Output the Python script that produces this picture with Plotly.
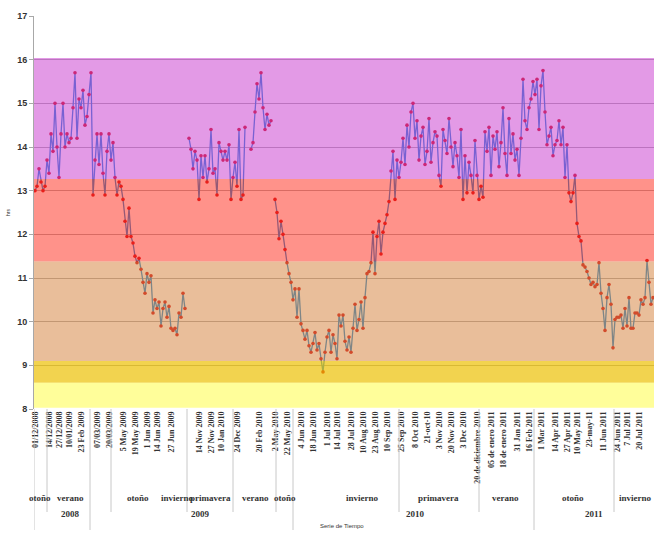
import plotly.graph_objects as go

# ---------------- data ----------------
# otoño/verano 2008-2009 and otoño/invierno 2009
serie_2008_2009 = [
    13.0, 13.1, 13.5, 13.2, 13.0, 13.1, 13.7, 13.4, 14.3, 13.9,
    15.0, 14.0, 13.3, 14.3, 15.0, 14.0, 14.3, 14.1, 14.2, 14.9,
    15.7, 14.2, 15.1, 14.9, 15.3, 14.5, 14.7, 15.2, 15.7, 12.9,
    13.7, 14.3, 13.6, 14.3, 13.4, 12.9, 13.9, 14.3, 13.7, 14.1,
    13.3, 12.9, 13.2, 13.1, 12.8, 12.3, 11.95, 12.6, 11.95, 11.8,
    11.5, 11.35, 11.45, 11.2, 10.9, 10.65, 11.1, 10.9, 11.05, 10.2,
    10.5, 10.3, 10.45, 9.9, 10.3, 10.45, 10.1, 10.35, 9.85, 9.8,
    9.85, 9.7, 10.2, 10.1, 10.65, 10.3,
]
# primavera 2009 / verano (Dec 2009)
serie_primavera_2009 = [
    14.2, 13.95, 13.5, 13.9, 13.7, 12.8, 13.8, 13.3, 13.8, 13.2,
    13.5, 14.4, 13.4, 13.5, 12.9, 14.1, 13.9, 13.7, 13.9, 13.7,
    14.05, 12.8, 13.3, 13.65, 13.1, 14.4, 12.8, 12.9, 14.45,
]
# verano 2010
serie_verano_2010 = [13.95, 14.1, 14.8, 15.45, 15.1, 15.7, 14.9, 14.4, 14.75, 14.5, 14.6]
# otoño / invierno 2010
serie_invierno_2010 = [
    12.8, 12.5, 11.9, 12.3, 12.0, 11.65, 11.35, 11.1, 10.9, 10.5,
    10.75, 10.1, 10.75, 9.95, 9.8, 9.6, 9.8, 9.45, 9.3, 9.5,
    9.75, 9.35, 9.5, 9.15, 8.85, 9.3, 9.65, 9.8, 9.3, 9.7,
    9.5, 9.15, 10.15, 9.9, 10.15, 9.55, 9.35, 9.65, 9.3, 9.85,
    10.4, 9.8, 10.05, 10.45, 9.85, 10.55, 11.1, 11.15, 11.35, 12.05,
    11.1, 11.95, 12.3, 11.55, 12.05, 12.25, 12.45, 12.75, 13.45, 13.9,
    12.8, 13.7, 13.3, 13.65,
]
# primavera 2010 / verano 2011
serie_primavera_2010 = [
    14.2, 13.6, 14.5, 14.0, 14.8, 15.0, 14.2, 14.6, 13.7, 14.25,
    14.45, 13.6, 13.9, 14.65, 13.65, 14.1, 14.35, 14.25, 13.35, 13.1,
    14.4, 14.15, 13.85, 14.65, 14.0, 13.55, 14.1, 13.8, 13.3, 14.4,
    12.8, 13.8, 12.95, 13.65, 13.35, 12.95, 14.15, 13.35, 12.8, 13.1,
    12.85, 14.35, 13.9, 14.45, 13.35, 14.25, 13.95, 14.35, 13.55, 14.1,
    14.9, 13.85, 13.35, 14.65, 13.85, 14.3, 13.7, 13.95, 13.35, 14.2,
    15.55, 14.6, 14.4, 14.9, 15.1, 15.5, 15.2, 15.55, 14.4, 15.4,
    15.75, 14.8, 14.05, 14.25, 14.45, 13.8, 14.05, 14.15, 14.6, 14.05,
]
# otoño / invierno 2011
serie_invierno_2011 = [
    14.45, 13.3, 14.05, 12.95, 12.75, 12.95, 13.35, 12.25, 11.95, 11.85,
    11.3, 11.25, 11.15, 11.0, 10.85, 10.9, 10.8, 10.85, 11.35, 10.65,
    10.3, 9.8, 10.55, 10.85, 10.4, 9.4, 10.05, 10.1, 10.1, 10.15,
    9.85, 10.3, 9.9, 10.55, 9.85, 9.85, 10.2, 10.2, 10.15, 10.5,
    10.4, 10.55, 11.4, 10.9, 10.4, 10.55,
]

valores = (serie_2008_2009 + [None] + serie_primavera_2009 + [None, None]
           + serie_verano_2010 + [None] + serie_invierno_2010
           + serie_primavera_2010 + serie_invierno_2011)
indices = list(range(len(valores)))

fechas_pos = [0, 7, 12, 17, 23, 31, 37, 44, 50, 56, 61, 68,
              82, 88, 93, 101, 112, 120, 126, 133, 139, 146, 151, 158, 164, 170, 176,
              183, 190, 196, 202, 208, 214, 221, 228, 234, 241, 247, 253, 260, 266,
              271, 277, 284, 291, 296, 302]
fechas_txt = ["01/12/2008", "14/12/2008", "27/12/2008", "10/01/2009", "23 Feb 2009",
              "07/03/2009", "20/03/2009", "5 May 2009", "19 May 2009", "1 Jun 2009",
              "14 Jun 2009", "27 Jun 2009", "14 Nov 2009", "27 Nov 2009", "10 Jan 2010",
              "24 Dec 2009", "20 Feb 2010", "2 May 2010", "22 May 2010", "4 Jun 2010",
              "18 Jun 2010", "1 Jul 2010", "14 Jul 2010", "28 Jul 2010", "10 Aug 2010",
              "23 Aug 2010", "10 Sep 2010", "25 Sep 2010", "8 Oct 2010", "21-oct-10",
              "3 Nov 2010", "20 Nov 2010", "3 Dec 2010", "20 de diciembre 2010",
              "05 de enero 2011", "18 de enero 2011", "31 Jan 2011", "16 Feb 2011",
              "1 Mar 2011", "14 Apr 2011", "27 Apr 2011", "10 May 2011", "23-may-11",
              "11 Jun 2011", "24 Jun 2011", "7 Jul 2011", "20 Jul 2011"]

estaciones_txt = ["otoño", "verano", "otoño", "invierno", "primavera", "verano", "otoño",
                  "invierno", "primavera", "verano", "otoño", "invierno"]
estaciones_pos = [2.5, 17.5, 51.5, 71, 87.5, 110, 125, 163.5, 201.5, 235, 269, 300]
anios_txt = ["2008", "2009", "2010", "2011"]
anios_pos = [17.5, 82.5, 190, 279.5]
sep_estacion = [6, 38, 76, 99, 120.5, 182, 222, 289.5]
sep_anio = [-0.5, 27.5, 129, 249.5]

# bands: (low, high, colour, opacity)
bandas = [
    (13.27, 16.04, "rgb(204,71,210)", 0.55),
    (11.38, 13.27, "rgb(255,57,42)", 0.55),
    (9.1, 11.38, "rgb(215,137,71)", 0.55),
    (8.6, 9.1, "rgb(236,192,4)", 0.70),
    (8.03, 8.6, "rgb(255,254,71)", 0.55),
]

# ---------------- figure ----------------
W, H = 655, 537
L, R, T, B = 34, 1, 16, 128
PH = H - T - B

def py(pix):
    return (H - B - pix) / PH

fig = go.Figure()
fig.add_trace(go.Scatter(
    x=indices, y=valores, mode="lines+markers",
    line=dict(color="rgb(20,130,210)", width=1.3),
    marker=dict(color="rgb(205,0,10)", size=3.6),
    connectgaps=False, showlegend=False,
))

shapes = []
for lo, hi, col, op in bandas:
    shapes.append(dict(type="rect", xref="paper", yref="y", x0=0, x1=1, y0=lo, y1=hi,
                       fillcolor=col, opacity=op, line=dict(width=0), layer="above"))
for s in sep_estacion:
    shapes.append(dict(type="line", xref="x", yref="paper", x0=s, x1=s, y0=0, y1=py(512),
                       line=dict(color="#c8c8c8", width=1)))
for s in sep_anio:
    shapes.append(dict(type="line", xref="x", yref="paper", x0=s, x1=s, y0=0, y1=py(530),
                       line=dict(color="#c8c8c8", width=1)))

ann = []
for t, p in zip(estaciones_txt, estaciones_pos):
    ann.append(dict(x=p, y=py(505), xref="x", yref="paper", text="<b>%s</b>" % t,
                    showarrow=False, font=dict(family="Liberation Serif", size=9, color="#333")))
for t, p in zip(anios_txt, anios_pos):
    ann.append(dict(x=p, y=py(521), xref="x", yref="paper", text="<b>%s</b>" % t,
                    showarrow=False, font=dict(family="Liberation Serif", size=9, color="#333")))
ann.append(dict(x=(342 - L) / 620, y=py(531), xref="paper", yref="paper", text="Serie de Tiempo",
                showarrow=False, font=dict(family="Liberation Sans", size=6, color="#333")))

fig.update_layout(
    width=W, height=H, margin=dict(l=L, r=R, t=T, b=B),
    paper_bgcolor="white", plot_bgcolor="white",
    shapes=shapes, annotations=ann,
    xaxis=dict(range=[-0.5, len(valores) - 0.5], tickmode="array", tickvals=fechas_pos,
               ticktext=["<b>%s</b>" % t for t in fechas_txt], tickangle=-90,
               tickfont=dict(family="Liberation Serif", size=8, color="#333"),
               showgrid=False, zeroline=False, ticks="", automargin=False,
               showline=False),
    yaxis=dict(range=[8, 17], dtick=1, showgrid=True, gridcolor="#a8a8a8", gridwidth=1,
               ticks="outside", ticklen=4, tickcolor="#a8a8a8",
               tickfont=dict(family="Liberation Sans", size=9, color="#333", weight="bold"),
               showline=True, linecolor="#a8a8a8", zeroline=False, automargin=False,
               title=dict(text="hrs", font=dict(family="Liberation Sans", size=5, color="#333"),
                          standoff=6)),
)
fig.write_html("out.html", config={"displayModeBar": False},
               post_script="document.body.style.margin='0';document.body.style.overflow='hidden';")
